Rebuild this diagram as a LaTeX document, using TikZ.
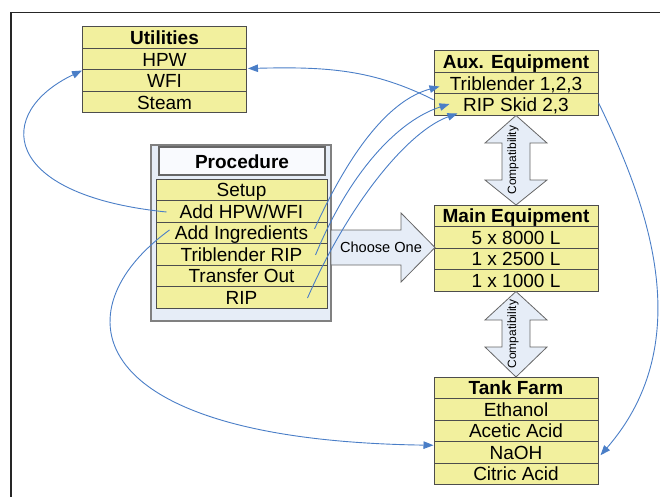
\documentclass[tikz,border=0pt]{standalone}
\usepackage{fontspec}
\setmainfont{Liberation Sans}
\usetikzlibrary{arrows.meta,calc}
\definecolor{cellfill}{RGB}{242,240,158}
\definecolor{cellline}{RGB}{77,77,77}
\definecolor{panelfill}{RGB}{230,237,247}
\definecolor{linkblue}{RGB}{74,126,199}
\begin{document}
\begin{tikzpicture}[x=1pt,y=-1pt,
cell/.style ={rectangle, draw=cellline, fill=cellfill, line width=1pt,
  minimum width=164pt, minimum height=21.5pt, inner sep=0pt,
  text height=14pt, text depth=0pt,
  font=\fontsize{19}{22}\selectfont
},
head/.style ={cell, font=\fontsize{19}{22}\selectfont\bfseries},
panel/.style ={rectangle, draw=gray, line width=1.2pt, fill=panelfill,
  inner sep=0pt
},
ptitle/.style ={rectangle, draw=gray!80!black, line width=1.5pt,
  fill=panelfill!80!blue!8, inner sep=0pt, text height=14pt, text depth=0pt,
  minimum width=166pt, minimum height=28pt,
  font=\fontsize{19}{22}\selectfont\bfseries
},
bigarrow/.style ={draw=gray!80!black, line width=0.8pt, fill=panelfill},
link/.style ={draw=linkblue, line width=0.9pt,
  -{Triangle[length=10pt,width=7.5pt]}
}]
\useasboundingbox (0,0) rectangle (660,497);
\draw[line width=1.5pt, black!85] (11,497) -- (11,12.5) -- (660,12.5);

\node (util) at (164.5,37.75) [head] {Utilities};
\node (hpw) at (164.5,59.25) [cell] {HPW};
\node (wfi) at (164.5,80.75) [cell] {WFI};
\node (steam) at (164.5,102.25) [cell] {Steam};

\node (aux) at (516,61.75) [head] {Aux. Equipment};
\node (tribl) at (516,83.25) [cell] {Triblender 1,2,3};
\node (skid) at (516,104.75) [cell] {RIP Skid 2,3};

\node (main) at (516,215.75) [head] {Main Equipment};
\node (t5k) at (516,237.25) [cell] {5 x 8000 L};
\node (t2k) at (516,258.75) [cell] {1 x 2500 L};
\node (t1k) at (516,280.25) [cell] {1 x 1000 L};

\node (farm) at (516,387.75) [head] {Tank Farm};
\node (etoh) at (516,409.25) [cell] {Ethanol};
\node (acetic) at (516,430.75) [cell] {Acetic Acid};
\node (naoh) at (516,452.25) [cell] {NaOH};
\node (citric) at (516,473.75) [cell] {Citric Acid};

\node (proc) at (241,233) [panel, minimum width=180pt, minimum height=176pt] {};
\node (ptop) at (242,161) [ptitle] {Procedure};
\node (setup) at (241.5,189.75) [cell, minimum width=171pt] {Setup};
\node (addw) at (241.5,211.25) [cell, minimum width=171pt] {Add HPW/WFI};
\node (ingr) at (241.5,232.75) [cell, minimum width=171pt] {Add Ingredients};
\node (trip) at (241.5,254.25) [cell, minimum width=171pt] {Triblender RIP};
\node (xfer) at (241.5,275.75) [cell, minimum width=171pt] {Transfer Out};
\node (rip) at (241.5,297.25) [cell, minimum width=171pt] {RIP};

% block arrows
\draw[bigarrow] (331,230) -- (401,230) -- (401,213) -- (435,247.5)
  -- (401,282) -- (401,265) -- (331,265) -- cycle;
\node (choose) at (381,247.5) [font=\fontsize{14.6}{16}\selectfont] {Choose One};

\draw[bigarrow] (516,115.5) -- (547,143) -- (530,143) -- (530,180) -- (547,180)
  -- (516,205) -- (485,180) -- (502,180) -- (502,143) -- (485,143) -- cycle;
\node (compat1) at (513,160) [rotate=90, font=\fontsize{12}{14}\selectfont] {Compatibility};

\draw[bigarrow] (516,291.5) -- (547,320) -- (530,320) -- (530,347) -- (547,347)
  -- (516,377) -- (485,347) -- (502,347) -- (502,320) -- (485,320) -- cycle;
\node (compat2) at (513,334) [rotate=90, font=\fontsize{12}{14}\selectfont] {Compatibility};

% links
\draw[link] ($(skid.west)+(0,-5)$) .. controls +(-60,-30) and +(80,-2) .. ($(hpw.south east)+(1,-2)$);
\draw[link] ($(addw.west)+(11,0.75)$) .. controls +(-167,-17) and +(-88,42) .. (hpw.south west);
\draw[link] ($(ingr.west)+(14,-2.75)$) .. controls +(-110,80) and +(-354,-5) .. ($(naoh.west)+(0,-7)$);
\draw[link] ($(skid.east)+(0,-2)$) .. controls +(47,97) and +(100,-115) .. ($(naoh.east)+(2,3)$);
\draw[link] ($(ingr.east)+(-13,-3.75)$) .. controls +(36,-79) and +(-50,13.5) .. ($(tribl.west)+(6,3.25)$);
\draw[link] ($(trip.east)+(-12,0.75)$) .. controls +(35,-85) and +(-50,16) .. ($(skid.west)+(16,-0.75)$);
\draw[link] ($(rip.east)+(-20,0.75)$) .. controls +(43,-98) and +(-48,17) .. ($(skid.south west)+(24,-2.5)$);
\end{tikzpicture}
\end{document}
